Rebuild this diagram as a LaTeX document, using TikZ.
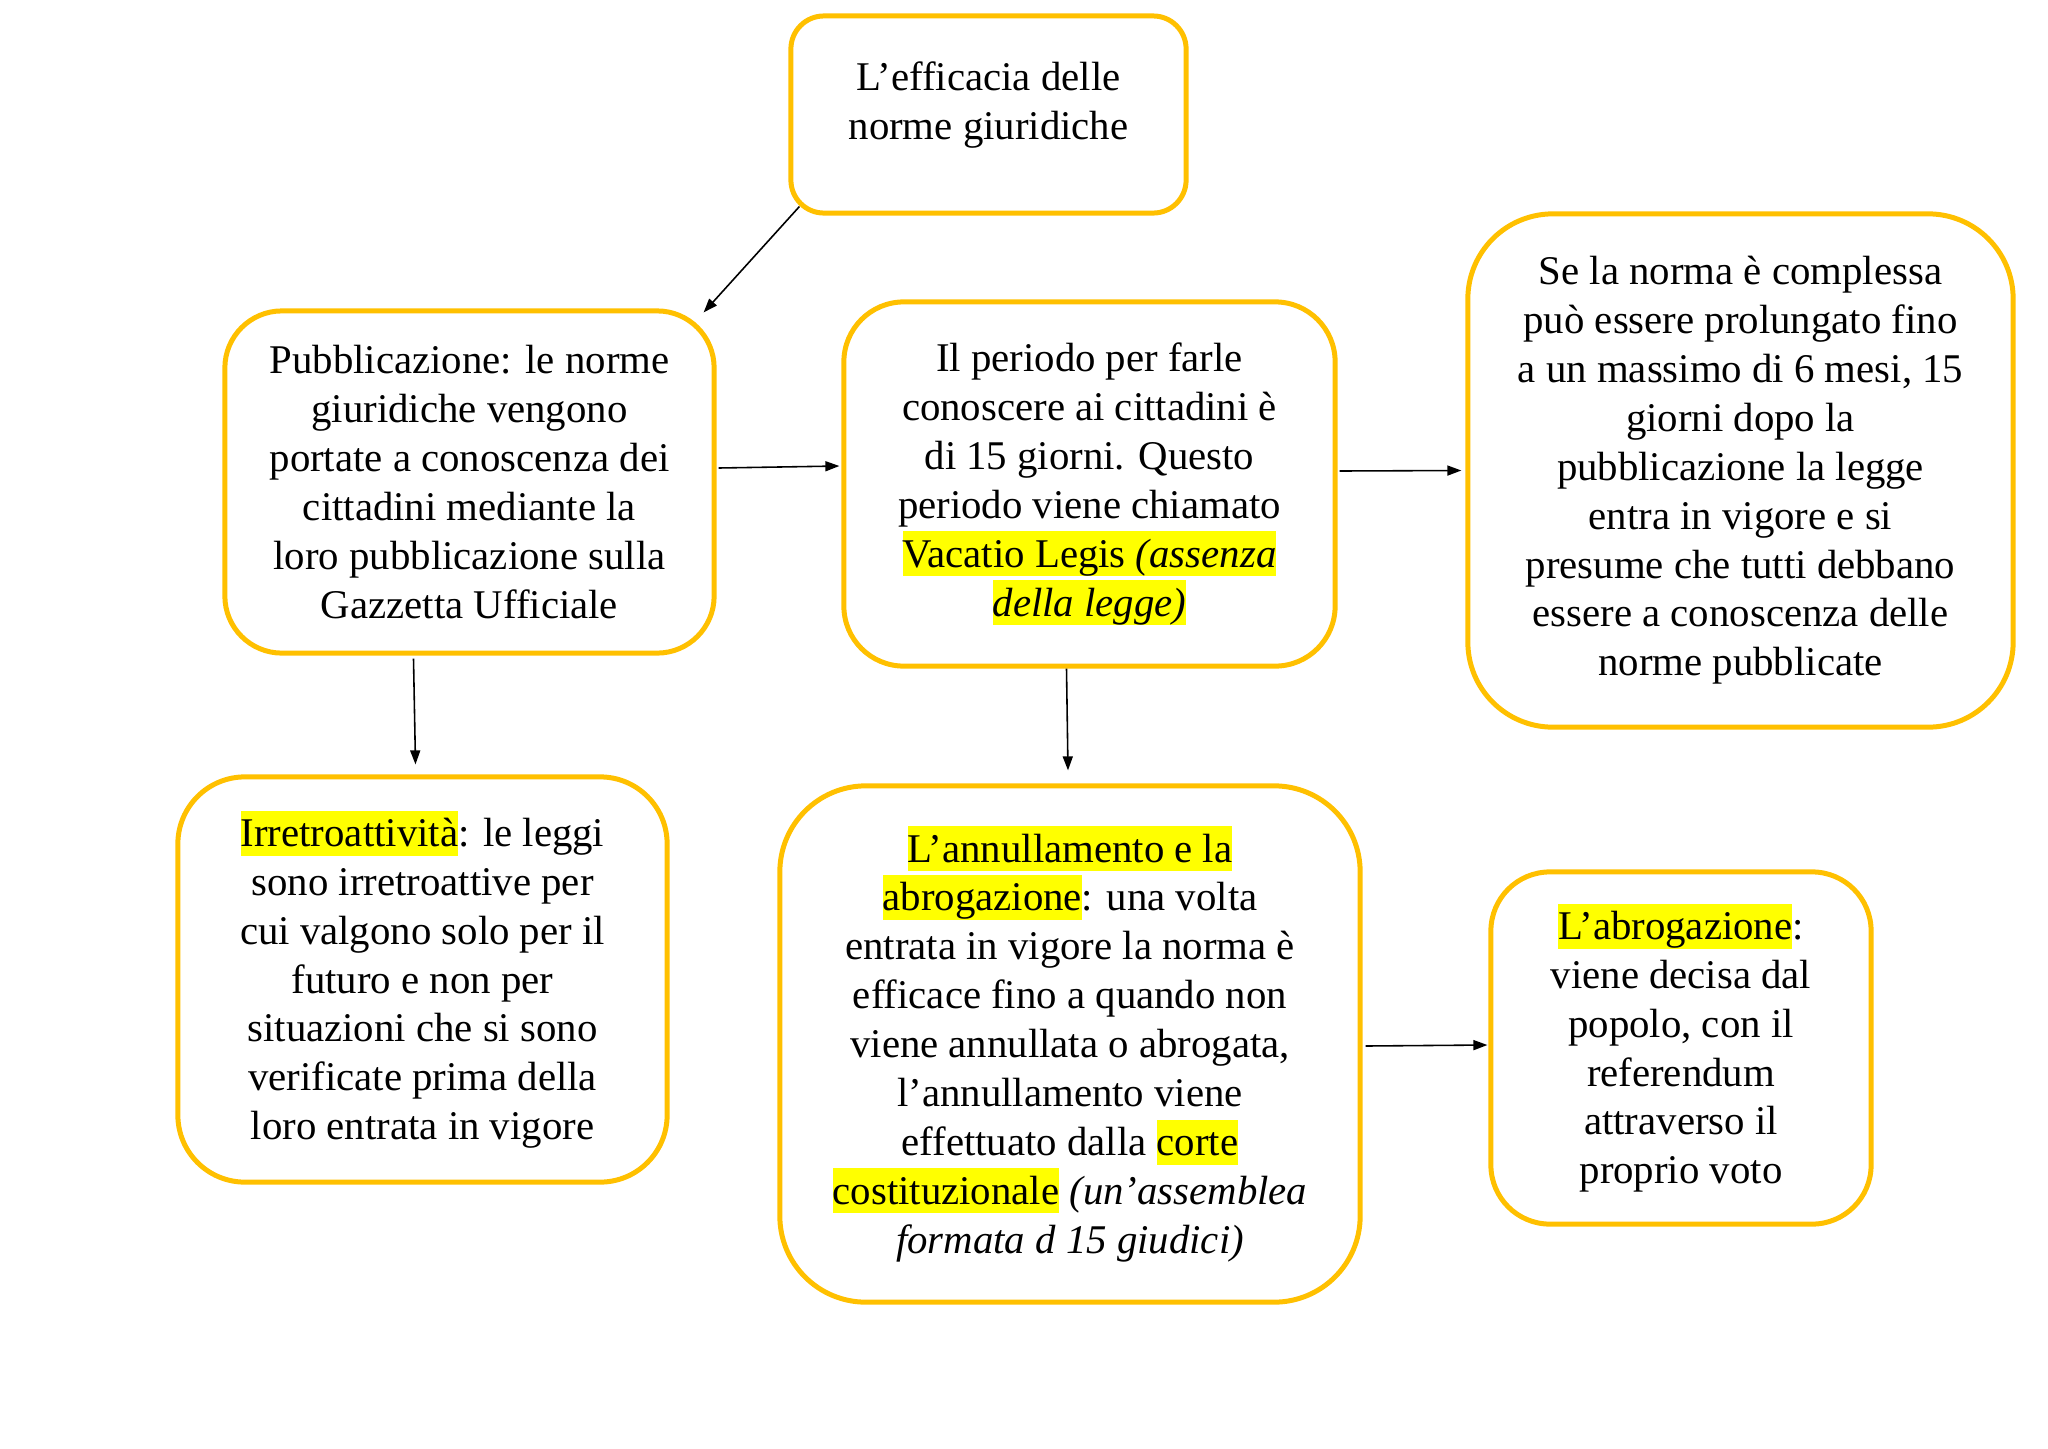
\documentclass[tikz,border=0pt]{standalone}
\usepackage{fontspec}
\setmainfont{Liberation Serif}
\usepackage{tikz}
\usetikzlibrary{arrows.meta,calc}
\definecolor{gold}{HTML}{FFC000}
\definecolor{marker}{HTML}{FFFF00}
\newcommand{\hl}[1]{{\setlength{\fboxsep}{0pt}\colorbox{marker}{\rule[-2.6pt]{0pt}{12.8pt}#1}}}

\begin{document}
\begin{tikzpicture}[x=0.01cm,y=-0.01cm,
box/.style={draw=gold,line width=1.42pt,fill=white,align=center,inner sep=0pt,
    font=\fontsize{11.6}{13.9}\selectfont},
arr/.style={-{Triangle[length=1.4mm,width=1.0mm]},line width=0.45pt,black}]
\useasboundingbox (0,0) rectangle (2048,1448);

\node (eff) [box,minimum width=3.95cm,minimum height=1.97cm,rounded corners=0.33cm]
    at (988.5,114.5) {L’efficacia delle\\norme giuridiche\rule[-7.7pt]{0pt}{0pt}};

\node (pubbl) [box,minimum width=4.89cm,minimum height=3.42cm,rounded corners=0.57cm]
    at (469.5,482) {Pubblicazione: le norme\\giuridiche vengono\\portate a conoscenza dei\\cittadini mediante la\\loro pubblicazione sulla\\Gazzetta Ufficiale};

\node (periodo) [box,minimum width=4.91cm,minimum height=3.64cm,rounded corners=0.6cm]
    at (1089.5,484) {Il periodo per farle\\conoscere ai cittadini è\\di 15 giorni. Questo\\periodo viene chiamato\\\hl{Vacatio Legis \textit{(assenza}}\\\hl{\textit{della legge)}}};

\node (proroga) [box,minimum width=5.45cm,minimum height=5.13cm,rounded corners=0.85cm]
    at (1740.5,470.5) {Se la norma è complessa\\può essere prolungato fino\\a un massimo di 6 mesi, 15\\giorni dopo la\\pubblicazione la legge\\entra in vigore e si\\presume che tutti debbano\\essere a conoscenza delle\\norme pubblicate};

\node (irretro) [box,minimum width=4.89cm,minimum height=4.05cm,rounded corners=0.67cm]
    at (422.5,979.5) {\hl{Irretroattività}: le leggi\\sono irretroattive per\\cui valgono solo per il\\futuro e non per\\situazioni che si sono\\verificate prima della\\loro entrata in vigore};

\node (annull) [box,minimum width=5.8cm,minimum height=5.16cm,rounded corners=0.86cm]
    at (1070,1044) {\hl{L’annullamento e la}\\\hl{abrogazione}: una volta\\entrata in vigore la norma è\\efficace fino a quando non\\viene annullata o abrogata,\\l’annullamento viene\\effettuato dalla \hl{corte}\\\hl{costituzionale} \textit{(un’assemblea}\\\textit{formata d 15 giudici)}};

\node (abrog) [box,minimum width=3.8cm,minimum height=3.52cm,rounded corners=0.59cm]
    at (1681,1048) {\hl{L’abrogazione}:\\viene decisa dal\\popolo, con il\\referendum\\attraverso il\\proprio voto};

% connectors
\draw [arr] ($(eff.south west)+(11,-9)$) -- ($(pubbl.north east)+(-13,4)$);
\draw [arr] ($(pubbl.east)+(2,-14)$) -- ($(periodo.west)+(-2,-18)$);
\draw [arr] ($(periodo.east)+(2,-13)$) -- ($(proroga.west)+(-4,0)$);
\draw [arr] ($(pubbl.south)+(-56,3)$) -- ($(irretro.north)+(-7,-10)$);
\draw [arr] ($(periodo.south)+(-23,0)$) -- ($(annull.north)+(-2,-13)$);
\draw [arr] ($(annull.east)+(3,2)$) -- ($(abrog.west)+(-1,-3)$);
\end{tikzpicture}
\end{document}
